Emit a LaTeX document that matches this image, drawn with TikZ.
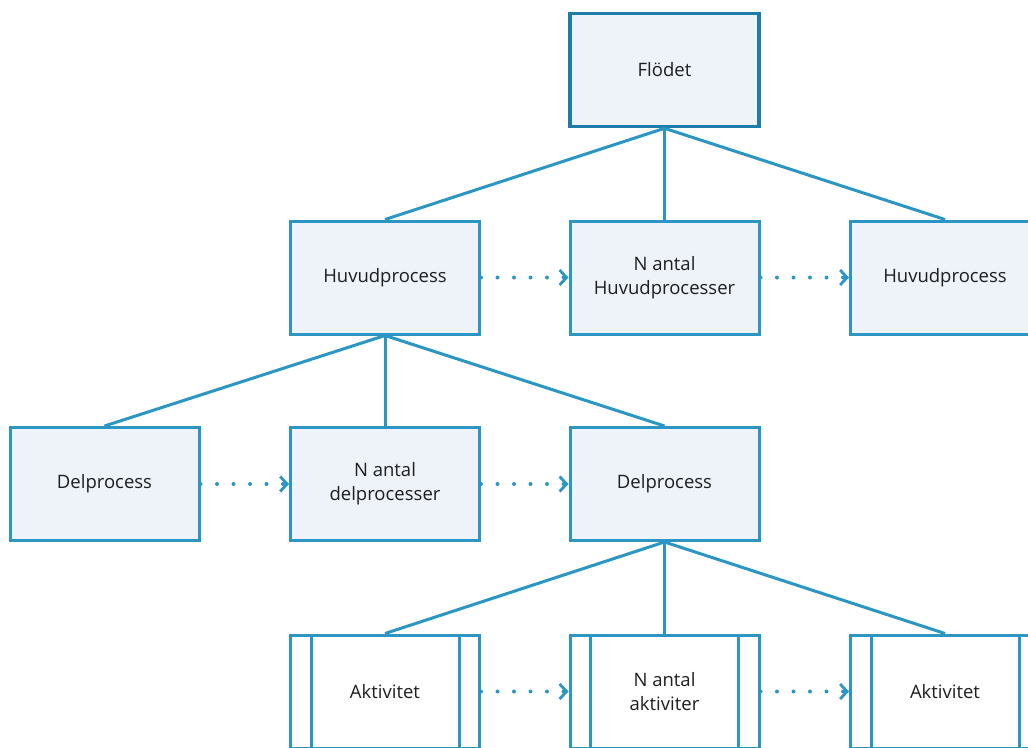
\documentclass[tikz,border=0pt]{standalone}
\usepackage{fontspec}
\setmainfont{Open Sans}
\usetikzlibrary{arrows.meta,calc}
\definecolor{edgeblue}{HTML}{2B96C4}
\definecolor{topblue}{HTML}{1C7EA8}
\definecolor{boxfill}{HTML}{EEF3FA}
\definecolor{txt}{HTML}{1E1E1E}
\tikzset{
  x=1pt, y=-1pt,
  proc/.style={draw=edgeblue, line width=3pt, fill=boxfill,
    minimum width=189pt, minimum height=113pt, inner sep=0pt,
    align=center, text=txt,
    font=\fontsize{18.5}{24}\selectfont},
  rootbox/.style={proc, draw=topblue, line width=3.6pt},
  activity/.style={proc, fill=white},
  tree/.style={draw=edgeblue, line width=3pt},
  flow/.style={draw=edgeblue, line width=4pt, line cap=round,
    dash pattern=on 0pt off 16.5pt,
    -{Straight Barb[length=7pt,width=15pt,line width=2.8pt]}},
  sidebar/.style={draw=edgeblue, line width=3pt}
}
\newcommand{\sidebars}[1]{%
  \draw[sidebar] ($(#1.north west)+(22,0)$) -- ($(#1.south west)+(22,0)$);
  \draw[sidebar] ($(#1.north east)+(-22,0)$) -- ($(#1.south east)+(-22,0)$);}
\begin{document}
\begin{tikzpicture}
\path[use as bounding box, clip] (0,0) rectangle (1028,747);
\fill[white] (0,0) rectangle (1028,747);

% root
\node[rootbox] (flow) at (664.5,70) {Flödet};

% main processes
\node[proc] (h1) at (385,277.5) {Huvudprocess};
\node[proc] (hn) at (664.5,277.5) {N antal\\Huvudprocesser};
\node[proc] (h2) at (945,277.5) {Huvudprocess};

% sub processes
\node[proc] (d1) at (104.5,484) {Delprocess};
\node[proc] (dn) at (385,484) {N antal\\delprocesser};
\node[proc] (d2) at (664.5,484) {Delprocess};

% activities
\node[activity] (a1) at (385,691.5) {Aktivitet};
\node[activity] (an) at (664.5,691.5) {N antal\\aktiviter};
\node[activity] (a2) at (945,691.5) {Aktivitet};
\sidebars{a1}
\sidebars{an}
\sidebars{a2}

% hierarchy
\draw[tree] (flow.south) -- (h1.north);
\draw[tree] (flow.south) -- (hn.north);
\draw[tree] (flow.south) -- (h2.north);
\draw[tree] (h1.south) -- (d1.north);
\draw[tree] (h1.south) -- (dn.north);
\draw[tree] (h1.south) -- (d2.north);
\draw[tree] (d2.south) -- (a1.north);
\draw[tree] (d2.south) -- (an.north);
\draw[tree] (d2.south) -- (a2.north);

% sequence
\draw[flow] (h1.east) -- (hn.west);
\draw[flow] (hn.east) -- (h2.west);
\draw[flow] (d1.east) -- (dn.west);
\draw[flow] (dn.east) -- (d2.west);
\draw[flow] (a1.east) -- (an.west);
\draw[flow] (an.east) -- (a2.west);
\end{tikzpicture}
\end{document}
